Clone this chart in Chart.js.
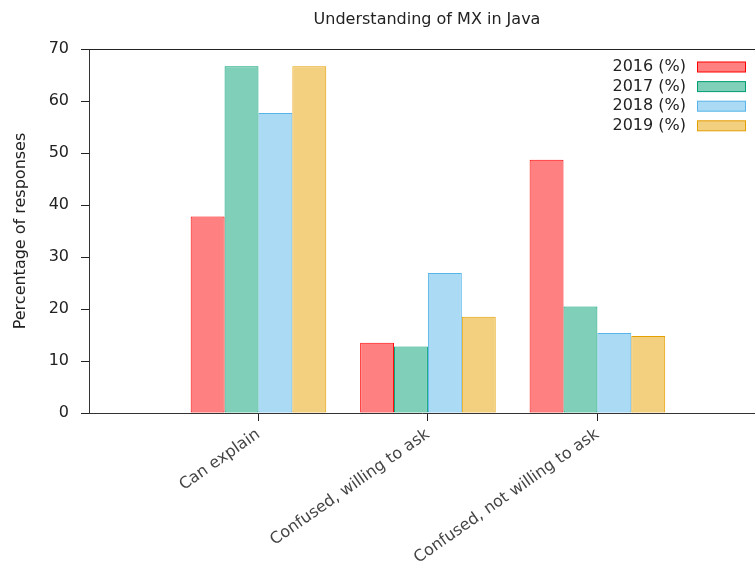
<!DOCTYPE html>
<html>
<head>
<meta charset="utf-8">
<script src="https://cdn.jsdelivr.net/npm/chart.js@4.4.1/dist/chart.umd.min.js"></script>
<style>
  html, body { margin: 0; padding: 0; background: #fff; }
  #wrap { width: 755px; height: 570px; }
</style>
</head>
<body>
<div id="wrap"><canvas id="myChart" width="755" height="570"></canvas></div>
<script>
const categories = ["Can explain", "Confused, willing to ask", "Confused, not willing to ask"];
const seriesNames = ["2016 (%)", "2017 (%)", "2018 (%)", "2019 (%)"];
const values2016 = [37.8, 13.5, 48.7];
const values2017 = [66.7, 12.8, 20.5];
const values2018 = [57.7, 26.9, 15.4];
const values2019 = [66.7, 18.5, 14.8];
const yTicks = [0, 10, 20, 30, 40, 50, 60, 70];

const fills = ["#ff8080", "#80cfb9", "#abdaf4", "#f3cf80"];
const borders = ["#ff0000", "#009e73", "#56b4e9", "#e69f00"];
const FONT = "'DejaVu Sans', sans-serif";

const allSeries = [values2016, values2017, values2018, values2019];

// title, top border and the in-plot key (gnuplot style)
const decorations = {
  id: "decorations",
  afterDraw(chart) {
    const ctx = chart.ctx;
    const area = chart.chartArea;
    ctx.save();
    ctx.strokeStyle = "#222";
    ctx.lineWidth = 1;
    ctx.beginPath();
    ctx.moveTo(area.left, area.top + 0.5);
    ctx.lineTo(area.right, area.top + 0.5);
    ctx.stroke();

    ctx.fillStyle = "#222";
    ctx.font = "16px " + FONT;
    ctx.textAlign = "center";
    ctx.textBaseline = "middle";
    ctx.fillText("Understanding of MX in Java", 427, 20);

    chart.data.datasets.forEach((ds, i) => {
      const cy = 67 + i * 19.6;
      ctx.textAlign = "right";
      ctx.fillStyle = "#222";
      ctx.fillText(ds.label, 686, cy);
      ctx.fillStyle = ds.backgroundColor;
      ctx.fillRect(697.5, cy - 5, 48, 10);
      ctx.strokeStyle = ds.borderColor;
      ctx.strokeRect(697.5, cy - 5, 48, 10);
    });
    ctx.restore();
  }
};

new Chart(document.getElementById("myChart"), {
  type: "bar",
  data: {
    datasets: allSeries.map((vals, i) => ({
      label: seriesNames[i],
      data: vals.map((v, j) => ({ x: j, y: v })),
      backgroundColor: fills[i],
      borderColor: borders[i],
      borderWidth: 1,
      borderSkipped: false,
      categoryPercentage: 0.8,
      barPercentage: 1.0
    }))
  },
  options: {
    responsive: false,
    animation: false,
    layout: { padding: { top: 49, left: 0, right: 0, bottom: 0 } },
    scales: {
      x: {
        type: "linear",
        min: -1,
        max: 2.93,
        offset: false,
        afterFit: (s) => { s.height = 157; },
        afterBuildTicks: (s) => { s.ticks = categories.map((c, i) => ({ value: i })); },
        grid: { drawOnChartArea: false, drawTicks: true, tickLength: 8, color: "#222", offset: false },
        border: { display: true, color: "#333", width: 1 },
        ticks: {
          autoSkip: false,
          minRotation: 35,
          maxRotation: 35,
          padding: 4,
          color: "#444",
          font: { family: FONT, size: 16 },
          callback: (v) => categories[v]
        }
      },
      y: {
        min: 0,
        max: 70,
        afterFit: (s) => { s.width = 89; },
        afterBuildTicks: (s) => { s.ticks = yTicks.map((v) => ({ value: v })); },
        grid: { drawOnChartArea: false, drawTicks: true, tickLength: 8, color: "#222" },
        border: { display: true, color: "#333", width: 1 },
        ticks: {
          padding: 12,
          color: "#222",
          font: { family: FONT, size: 16 }
        },
        title: {
          display: true,
          text: "Percentage of responses",
          color: "#222",
          padding: { top: 11 },
          font: { family: FONT, size: 16 }
        }
      }
    },
    plugins: {
      legend: { display: false },
      title: { display: false },
      tooltip: { enabled: false }
    }
  },
  plugins: [decorations]
});
</script>
</body>
</html>
